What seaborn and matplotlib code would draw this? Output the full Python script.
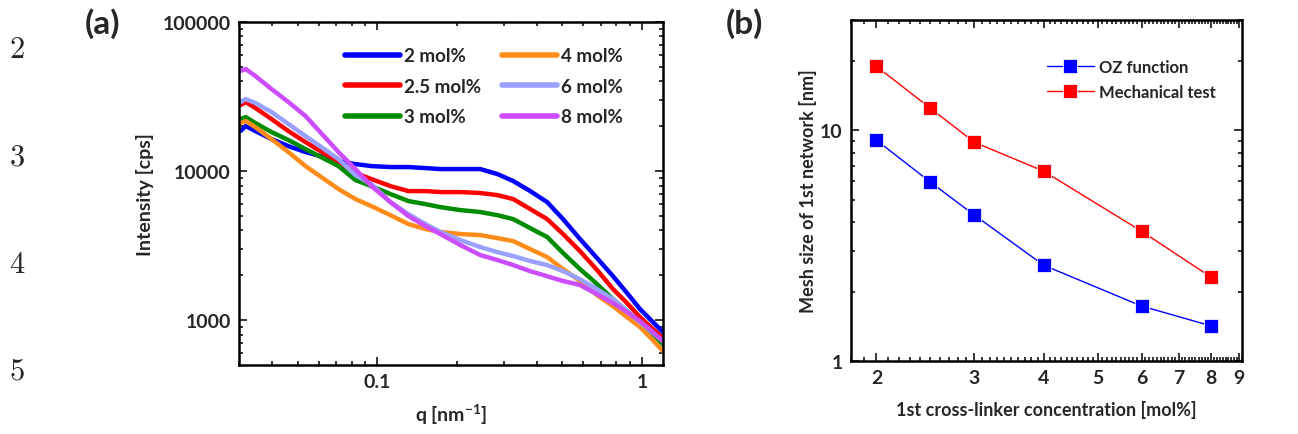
import numpy as np
import pandas as pd
import seaborn as sns
import matplotlib.pyplot as plt
from matplotlib.ticker import FixedLocator, NullFormatter, FixedFormatter

# %% Data
# panel (a): SAXS intensity profiles
q = [0.0304, 0.0318, 0.0346, 0.0398, 0.0461, 0.0535, 0.0713, 0.0826, 0.0949,
     0.112, 0.131, 0.152, 0.173, 0.206, 0.245, 0.284, 0.326, 0.378, 0.438,
     0.503, 0.583, 0.676, 0.777, 0.878, 0.983, 1.09, 1.20]
I_2 = [18550, 20050, 18550, 16400, 14700, 13410, 11670, 11140, 10800,
       10640, 10640, 10470, 10310, 10310, 10310, 9550, 8570, 7340, 6190,
       4760, 3500, 2607, 1970, 1518, 1185, 985, 831]
I_25 = [27730, 29050, 26500, 22340, 18550, 15650, 11490, 9700, 8840,
        7930, 7340, 7340, 7230, 7230, 7120, 6900, 6490, 5560, 4760,
        3780, 2900, 2170, 1615, 1300, 1047, 884, 757]
I_3 = [22340, 23030, 21000, 18270, 16150, 14050, 10800, 8700, 7930,
       7010, 6290, 6000, 5730, 5470, 5310, 5060, 4760, 4140, 3610,
       2820, 2200, 1745, 1380, 1149, 970, 818, 690]
I_4 = [21000, 21650, 19700, 16400, 13410, 10800, 7570, 6490, 5820,
       5060, 4410, 4080, 3900, 3780, 3720, 3550, 3390, 2995, 2650,
       2200, 1830, 1470, 1240, 1047, 898, 745, 619]
I_6 = [29050, 30430, 28600, 24890, 20700, 17180, 12040, 9400, 8180,
       6190, 5140, 4410, 3900, 3440, 3090, 2860, 2690, 2490, 2340,
       2130, 1880, 1615, 1380, 1149, 970, 831, 723]
I_8 = [46900, 48370, 43400, 35500, 29050, 23390, 13410, 10310, 7930,
       6190, 4990, 4270, 3780, 3185, 2730, 2530, 2340, 2130, 1970,
       1830, 1720, 1494, 1300, 1132, 985, 844, 723]
conc_labels = ["2 mol%", "2.5 mol%", "3 mol%", "4 mol%", "6 mol%", "8 mol%"]
conc_colors = ["#0000ff", "#ff0000", "#008c00", "#ff8c1a", "#99a0ff", "#cc4cff"]

# panel (b): mesh size vs cross-linker concentration
crosslinker = [2, 2.5, 3, 4, 6, 8]
mesh_oz = [9.05, 5.96, 4.29, 2.60, 1.73, 1.42]
mesh_mech = [18.9, 12.45, 8.87, 6.64, 3.65, 2.31]

# %% Build long-form tables
df_a = pd.DataFrame({
    "q": q * 6,
    "I": I_2 + I_25 + I_3 + I_4 + I_6 + I_8,
    "conc": sum([[lab] * len(q) for lab in conc_labels], []),
})
df_b = pd.DataFrame({
    "c": crosslinker * 2,
    "mesh": mesh_oz + mesh_mech,
    "method": ["OZ function"] * 6 + ["Mechanical test"] * 6,
})

# %% Style
sns.set_style("ticks")
plt.rcParams["font.family"] = ["Lato", "DejaVu Sans"]
plt.rcParams["font.weight"] = "bold"
plt.rcParams["axes.labelweight"] = "bold"
plt.rcParams["mathtext.fontset"] = "custom"
plt.rcParams["mathtext.rm"] = "Lato:bold"
plt.rcParams["mathtext.default"] = "rm"

fig = plt.figure(figsize=(12.98, 4.35), dpi=100)
ax_a = fig.add_axes([239 / 1298, 69 / 435, 424 / 1298, 343 / 435])
ax_b = fig.add_axes([851 / 1298, 73 / 435, 391 / 1298, 341 / 435])

# %% Panel (a)
sns.lineplot(data=df_a, x="q", y="I", hue="conc", hue_order=conc_labels,
             palette=conc_colors, linewidth=3.2, estimator=None, ax=ax_a,
             solid_capstyle="round", solid_joinstyle="round")
ax_a.set_xscale("log")
ax_a.set_yscale("log")
ax_a.set_xlim(0.03, 1.2)
ax_a.set_ylim(500, 100000)
ax_a.xaxis.set_major_locator(FixedLocator([0.1, 1]))
ax_a.xaxis.set_major_formatter(FixedFormatter(["0.1", "1"]))
ax_a.xaxis.set_minor_locator(FixedLocator([0.03, 0.04, 0.05, 0.06, 0.07, 0.08, 0.09,
                                            0.2, 0.3, 0.4, 0.5, 0.6, 0.7, 0.8, 0.9]))
ax_a.xaxis.set_minor_formatter(NullFormatter())
ax_a.yaxis.set_major_locator(FixedLocator([1000, 10000, 100000]))
ax_a.yaxis.set_major_formatter(FixedFormatter(["1000", "10000", "100000"]))
ax_a.yaxis.set_minor_locator(FixedLocator([600, 700, 800, 900] +
                                          [k * 1000 for k in range(2, 10)] +
                                          [k * 10000 for k in range(2, 10)]))
ax_a.yaxis.set_minor_formatter(NullFormatter())
ax_a.set_xlabel("q [nm$^{-1}$]", fontsize=14, labelpad=8)
ax_a.set_ylabel("Intensity [cps]", fontsize=14, labelpad=6)
ax_a.legend(ncol=2, frameon=False, loc="upper left", bbox_to_anchor=(0.211, 0.975),
            fontsize=13.5, handlelength=2.9, handletextpad=0.25,
            columnspacing=1.1, labelspacing=0.72)
for lh in ax_a.get_legend().get_lines():
    lh.set_linewidth(4)
    lh.set_solid_capstyle("round")

# %% Panel (b)
sns.lineplot(data=df_b, x="c", y="mesh", hue="method",
             hue_order=["OZ function", "Mechanical test"],
             palette=["#0000ff", "#ff0000"], marker="s", markersize=10,
             markeredgecolor="#f0f0ff", markeredgewidth=0.6, linewidth=1,
             estimator=None, ax=ax_b)
ax_b.set_xscale("log")
ax_b.set_yscale("log")
ax_b.set_xlim(1.8, 9.1)
ax_b.set_ylim(1, 30)
ax_b.xaxis.set_major_locator(FixedLocator([2, 3, 4, 5, 6, 7, 8, 9]))
ax_b.xaxis.set_major_formatter(FixedFormatter(["2", "3", "4", "5", "6", "7", "8", "9"]))
ax_b.xaxis.set_minor_locator(FixedLocator(np.round(np.arange(1.8, 9.11, 0.1), 1)))
ax_b.xaxis.set_minor_formatter(NullFormatter())
ax_b.yaxis.set_major_locator(FixedLocator([1, 10]))
ax_b.yaxis.set_major_formatter(FixedFormatter(["1", "10"]))
ax_b.yaxis.set_minor_locator(FixedLocator(list(range(2, 10)) + [20, 30]))
ax_b.yaxis.set_minor_formatter(NullFormatter())
ax_b.set_xlabel("1st cross-linker concentration [mol%]", fontsize=13, labelpad=10)
ax_b.set_ylabel("Mesh size of 1st network [nm]", fontsize=13, labelpad=2)
ax_b.legend(frameon=False, loc="upper right", bbox_to_anchor=(0.97, 0.93),
            fontsize=12, handlelength=2.8, handletextpad=0.3, labelspacing=0.55)

for ax in (ax_a, ax_b):
    for sp in ax.spines.values():
        sp.set_visible(True)
        sp.set_linewidth(1.8)
        sp.set_color("black")
    ax.tick_params(which="both", direction="in", top=True, right=True,
                   labelsize=14, pad=6, width=1.3)
    ax.tick_params(which="major", length=6)
    ax.tick_params(which="minor", length=3)

# %% Panel letters and manuscript line numbers
fig.text(103 / 1298, 1 - 24 / 435, "(a)", fontsize=24, ha="center", va="center")
fig.text(744 / 1298, 1 - 24 / 435, "(b)", fontsize=24, ha="center", va="center")
for num, ypx in zip(["2", "3", "4", "5"], [49, 156, 264, 371]):
    fig.text(17 / 1298, 1 - ypx / 435, "$" + num + "$", math_fontfamily="cm",
             fontsize=22, ha="center", va="center")

fig.savefig("out.png", dpi=100)
